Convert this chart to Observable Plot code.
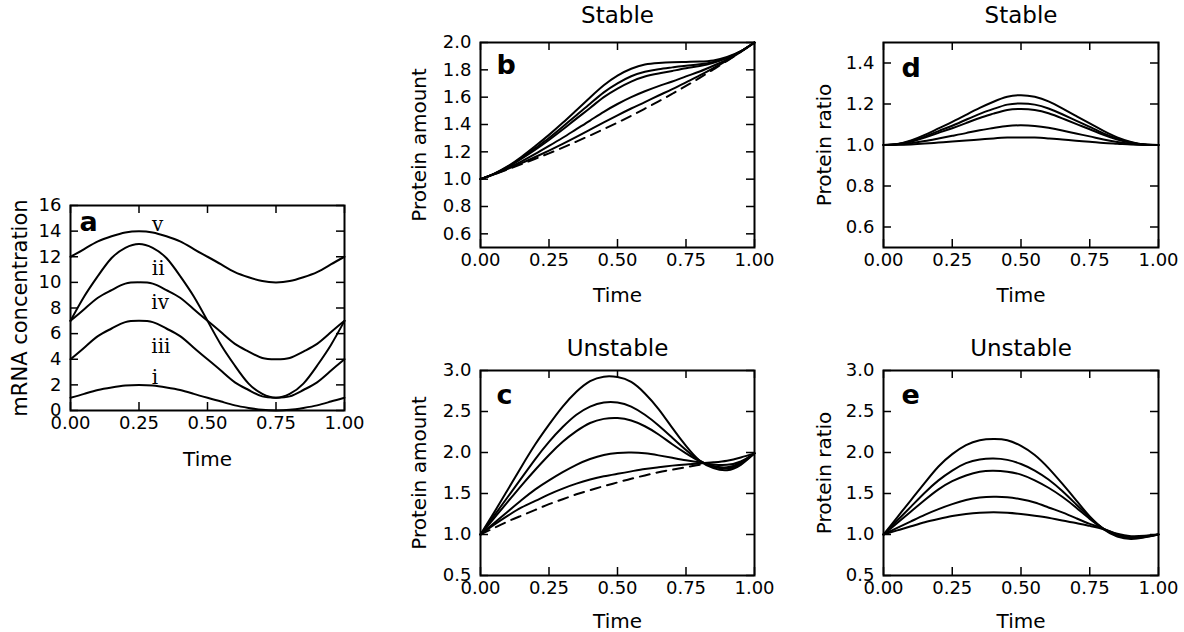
<!DOCTYPE html>
<html><head><meta charset="utf-8">
<script src="https://cdn.jsdelivr.net/npm/d3@7"></script>
<script src="https://cdn.jsdelivr.net/npm/@observablehq/plot@0.6"></script>
<style>
body{margin:0;background:#fff;}
#fig{position:relative;width:1184px;height:632px;overflow:hidden;background:#fff;}
.panel{position:absolute;}
</style></head><body><div id="fig"></div>
<script>
// ---------- data ----------
const time = [0,0.05,0.1,0.15,0.2,0.25,0.3,0.35,0.4,0.45,0.5,0.55,0.6,0.65,0.7,0.75,0.8,0.85,0.9,0.95,1];
const timeTicks = [0,0.25,0.5,0.75,1];

// panel a: mRNA concentration
const mrnaV   = [12,12.6,13.2,13.6,13.9,14,13.9,13.6,13.2,12.6,12,11.4,10.8,10.4,10.1,10,10.1,10.4,10.8,11.4,12];
const mrnaII  = [7,8.9,10.5,11.9,12.7,13,12.7,11.9,10.5,8.9,7,5.1,3.5,2.1,1.3,1,1.3,2.1,3.5,5.1,7];
const mrnaIV  = [7,7.9,8.8,9.4,9.9,10,9.9,9.4,8.8,7.9,7,6.1,5.2,4.6,4.1,4,4.1,4.6,5.2,6.1,7];
const mrnaIII = [4,4.9,5.8,6.4,6.9,7,6.9,6.4,5.8,4.9,4,3.1,2.2,1.6,1.1,1,1.1,1.6,2.2,3.1,4];
const mrnaI   = [1,1.3,1.6,1.8,1.95,2,1.95,1.8,1.6,1.3,1,0.7,0.4,0.2,0.05,0,0.05,0.2,0.4,0.7,1];
const mrnaLabels = ["v","ii","iv","iii","i"];
const mrnaLabelT = [0.318,0.32,0.327,0.33,0.308];
const mrnaLabelV = [14.5,11.1,8.4,5.0,2.6];
const mrnaTicks = [0,2,4,6,8,10,12,14,16];

// panel b: stable protein amount
const stableAmt1 = [1.000,1.040,1.095,1.164,1.242,1.324,1.412,1.505,1.598,1.687,1.758,1.808,1.839,1.850,1.855,1.858,1.861,1.869,1.894,1.936,2.000];
const stableAmt2 = [1.000,1.039,1.091,1.155,1.227,1.301,1.383,1.468,1.552,1.635,1.701,1.753,1.786,1.805,1.818,1.830,1.840,1.858,1.888,1.936,2.000];
const stableAmt3 = [1.000,1.039,1.089,1.150,1.216,1.287,1.363,1.443,1.521,1.600,1.663,1.714,1.751,1.773,1.792,1.811,1.828,1.851,1.887,1.936,2.000];
const stableAmt4 = [1.000,1.037,1.081,1.131,1.185,1.243,1.303,1.366,1.429,1.493,1.550,1.600,1.643,1.681,1.715,1.752,1.788,1.830,1.877,1.934,2.000];
const stableAmt5 = [1.000,1.036,1.075,1.117,1.162,1.209,1.258,1.309,1.362,1.415,1.467,1.517,1.564,1.612,1.659,1.709,1.759,1.813,1.870,1.932,2.000];
const stableAmtDashed = [1.000,1.035,1.072,1.110,1.149,1.189,1.231,1.275,1.320,1.366,1.414,1.464,1.516,1.569,1.625,1.682,1.741,1.803,1.866,1.932,2.000];
const stableAmtTicks = [0.6,0.8,1.0,1.2,1.4,1.6,1.8,2.0];

// panel c: unstable protein amount
const unstAmt1 = [1.00,1.27,1.55,1.83,2.10,2.34,2.56,2.74,2.87,2.925,2.92,2.86,2.72,2.53,2.30,2.08,1.90,1.81,1.785,1.85,1.99];
const unstAmt2 = [1.00,1.23,1.46,1.69,1.92,2.13,2.31,2.46,2.56,2.61,2.61,2.56,2.46,2.33,2.18,2.03,1.90,1.825,1.805,1.865,1.99];
const unstAmt3 = [1.00,1.20,1.40,1.60,1.79,1.97,2.13,2.26,2.36,2.41,2.42,2.39,2.32,2.22,2.10,1.99,1.895,1.835,1.82,1.875,1.99];
const unstAmt4 = [1.00,1.14,1.28,1.42,1.55,1.66,1.76,1.85,1.92,1.97,1.995,2.00,1.99,1.965,1.935,1.905,1.88,1.855,1.85,1.89,1.99];
const unstAmt5 = [1.00,1.12,1.23,1.33,1.41,1.49,1.56,1.62,1.67,1.71,1.74,1.77,1.80,1.82,1.84,1.855,1.865,1.88,1.90,1.94,1.99];
const unstAmtDashed = [1.00,1.08,1.16,1.23,1.30,1.37,1.43,1.49,1.54,1.59,1.635,1.68,1.72,1.76,1.79,1.82,1.85];
const unstTicks = [0.5,1.0,1.5,2.0,2.5,3.0];

// panel d: stable protein ratio
const stableRatio1 = [1.000,1.005,1.022,1.049,1.081,1.113,1.147,1.181,1.211,1.235,1.243,1.235,1.213,1.179,1.142,1.105,1.069,1.037,1.015,1.002,1.000];
const stableRatio2 = [1.000,1.004,1.018,1.041,1.068,1.094,1.123,1.152,1.176,1.197,1.203,1.197,1.178,1.150,1.119,1.088,1.057,1.031,1.012,1.002,1.000];
const stableRatio3 = [1.000,1.004,1.016,1.036,1.059,1.082,1.107,1.132,1.153,1.171,1.176,1.171,1.155,1.130,1.103,1.077,1.050,1.027,1.011,1.002,1.000];
const stableRatio4 = [1.000,1.002,1.009,1.019,1.032,1.045,1.058,1.072,1.083,1.093,1.096,1.093,1.084,1.071,1.056,1.042,1.027,1.015,1.006,1.001,1.000];
const stableRatio5 = [1.000,1.001,1.003,1.007,1.012,1.017,1.022,1.027,1.032,1.036,1.037,1.036,1.032,1.027,1.021,1.016,1.010,1.006,1.002,1.000,1.000];
const stableRatioTicks = [0.6,0.8,1.0,1.2,1.4];

// panel e: unstable protein ratio
const unstRatio1 = [1.00,1.21,1.42,1.63,1.83,1.98,2.09,2.15,2.165,2.15,2.08,1.97,1.81,1.62,1.42,1.22,1.065,0.975,0.945,0.965,1.00];
const unstRatio2 = [1.00,1.17,1.34,1.51,1.66,1.78,1.87,1.915,1.926,1.91,1.86,1.78,1.67,1.53,1.37,1.21,1.07,0.985,0.955,0.97,1.00];
const unstRatio3 = [1.00,1.14,1.28,1.42,1.55,1.65,1.72,1.765,1.776,1.765,1.73,1.66,1.57,1.46,1.33,1.19,1.07,0.99,0.96,0.975,1.00];
const unstRatio4 = [1.00,1.08,1.16,1.24,1.31,1.37,1.42,1.45,1.46,1.455,1.43,1.39,1.33,1.27,1.20,1.13,1.07,1.00,0.97,0.98,1.00];
const unstRatio5 = [1.00,1.05,1.10,1.15,1.19,1.225,1.25,1.265,1.27,1.265,1.25,1.23,1.205,1.17,1.14,1.105,1.065,1.01,0.98,0.985,1.00];

// ---------- drawing ----------
const FONT = "DejaVu Sans, Verdana, sans-serif";
const fig = document.getElementById("fig");

function panel(o) {
  const [mt, mr, mb, ml] = o.margin;
  const innerH = o.height - mt - mb, innerW = o.width - ml - mr;
  const rows = o.series.flatMap((vals, i) => vals.map((v, j) => ({t: time[j], v, s: i})));
  const marks = [
    Plot.line(rows, {x: "t", y: "v", z: "s", stroke: "black", strokeWidth: 2, curve: "natural"})
  ];
  if (o.dashed) {
    marks.push(Plot.line(o.dashed.map((v, j) => ({t: time[j], v})),
      {x: "t", y: "v", stroke: "black", strokeWidth: 2, strokeDasharray: "10,7", curve: "natural"}));
  }
  const tk = 8;
  marks.push(
    Plot.tickX(timeTicks, {x: d => d, insetTop: innerH - tk, stroke: "black", strokeWidth: 1.5}),
    Plot.tickX(timeTicks, {x: d => d, insetBottom: innerH - tk, stroke: "black", strokeWidth: 1.5}),
    Plot.tickY(o.yTicks, {y: d => d, insetLeft: innerW - tk, stroke: "black", strokeWidth: 1.5}),
    Plot.tickY(o.yTicks, {y: d => d, insetRight: innerW - tk, stroke: "black", strokeWidth: 1.5}),
    Plot.frame({stroke: "black", strokeWidth: 2}),
    Plot.text(["Time"], {text: d => d, frameAnchor: "bottom", textAnchor: "middle", lineAnchor: "middle", dy: o.timeDy, fontSize: 20, fill: "black"}),
    Plot.text([o.ylabel], {text: d => d, frameAnchor: "left", textAnchor: "middle", lineAnchor: "middle", dx: o.ylabelDx, rotate: -90, fontSize: o.ylabelSize || 20, fill: "black"}),
    Plot.text([o.letter], {text: d => d, frameAnchor: "top-left", textAnchor: "start", lineAnchor: "middle", dx: o.letterDx, dy: o.letterDy, fontSize: 27, fontWeight: "bold", fill: "black"})
  );
  if (o.title) {
    marks.push(Plot.text([o.title], {text: d => d, frameAnchor: "top", textAnchor: "middle", lineAnchor: "middle", dy: o.titleDy, fontSize: 23, fill: "black"}));
  }
  if (o.extra) marks.push(...o.extra);
  const svg = Plot.plot({
    width: o.width, height: o.height,
    marginTop: mt, marginRight: mr, marginBottom: mb, marginLeft: ml,
    style: {fontSize: "18px", fontFamily: FONT, color: "black", background: "transparent", overflow: "visible"},
    x: {domain: [0, 1], ticks: timeTicks, tickFormat: d3.format(".2f"), tickSize: 0, tickPadding: 6, label: null},
    y: {domain: o.yDomain, ticks: o.yTicks, tickFormat: o.yFormat, tickSize: 0, tickPadding: 9, label: null},
    marks
  });
  const div = document.createElement("div");
  div.className = "panel";
  div.style.left = o.left + "px";
  div.style.top = o.top + "px";
  div.style.width = o.width + "px";
  div.style.height = o.height + "px";
  div.appendChild(svg);
  fig.appendChild(div);
}

// panel a
const numeralRows = mrnaLabels.map((s, i) => ({s, t: mrnaLabelT[i], v: mrnaLabelV[i]}));
panel({
  left: 0, top: 180, width: 360, height: 300, margin: [25, 16, 70, 70],
  yDomain: [0, 16], yTicks: mrnaTicks, yFormat: d3.format("d"),
  series: [mrnaV, mrnaII, mrnaIV, mrnaIII, mrnaI],
  ylabel: "mRNA concentration", ylabelDx: -50, ylabelSize: 21, timeDy: 49,
  letter: "a", letterDx: 9, letterDy: 17,
  extra: [Plot.text(numeralRows, {x: "t", y: "v", text: "s", fontFamily: "DejaVu Serif, serif", fontSize: 20, fill: "black"})]
});

// panel b
panel({
  left: 380, top: 0, width: 400, height: 320, margin: [42, 26, 73, 100],
  yDomain: [0.5, 2.0], yTicks: stableAmtTicks, yFormat: d3.format(".1f"),
  series: [stableAmt1, stableAmt2, stableAmt3, stableAmt4, stableAmt5], dashed: stableAmtDashed,
  ylabel: "Protein amount", ylabelDx: -61, timeDy: 48,
  letter: "b", letterDx: 16, letterDy: 23, title: "Stable", titleDy: -27
});

// panel c
panel({
  left: 380, top: 320, width: 400, height: 312, margin: [50, 26, 57, 100],
  yDomain: [0.5, 3.0], yTicks: unstTicks, yFormat: d3.format(".1f"),
  series: [unstAmt1, unstAmt2, unstAmt3, unstAmt4, unstAmt5], dashed: unstAmtDashed,
  ylabel: "Protein amount", ylabelDx: -61, timeDy: 46,
  letter: "c", letterDx: 16, letterDy: 25, title: "Unstable", titleDy: -22
});

// panel d
panel({
  left: 780, top: 0, width: 404, height: 320, margin: [42, 26, 73, 103],
  yDomain: [0.5, 1.5], yTicks: stableRatioTicks, yFormat: d3.format(".1f"),
  series: [stableRatio1, stableRatio2, stableRatio3, stableRatio4, stableRatio5],
  ylabel: "Protein ratio", ylabelDx: -59, timeDy: 48,
  letter: "d", letterDx: 18, letterDy: 26, title: "Stable", titleDy: -27
});

// panel e
panel({
  left: 780, top: 320, width: 404, height: 312, margin: [50, 26, 57, 103],
  yDomain: [0.5, 3.0], yTicks: unstTicks, yFormat: d3.format(".1f"),
  series: [unstRatio1, unstRatio2, unstRatio3, unstRatio4, unstRatio5],
  ylabel: "Protein ratio", ylabelDx: -59, timeDy: 46,
  letter: "e", letterDx: 18, letterDy: 25, title: "Unstable", titleDy: -22
});
</script></body></html>
